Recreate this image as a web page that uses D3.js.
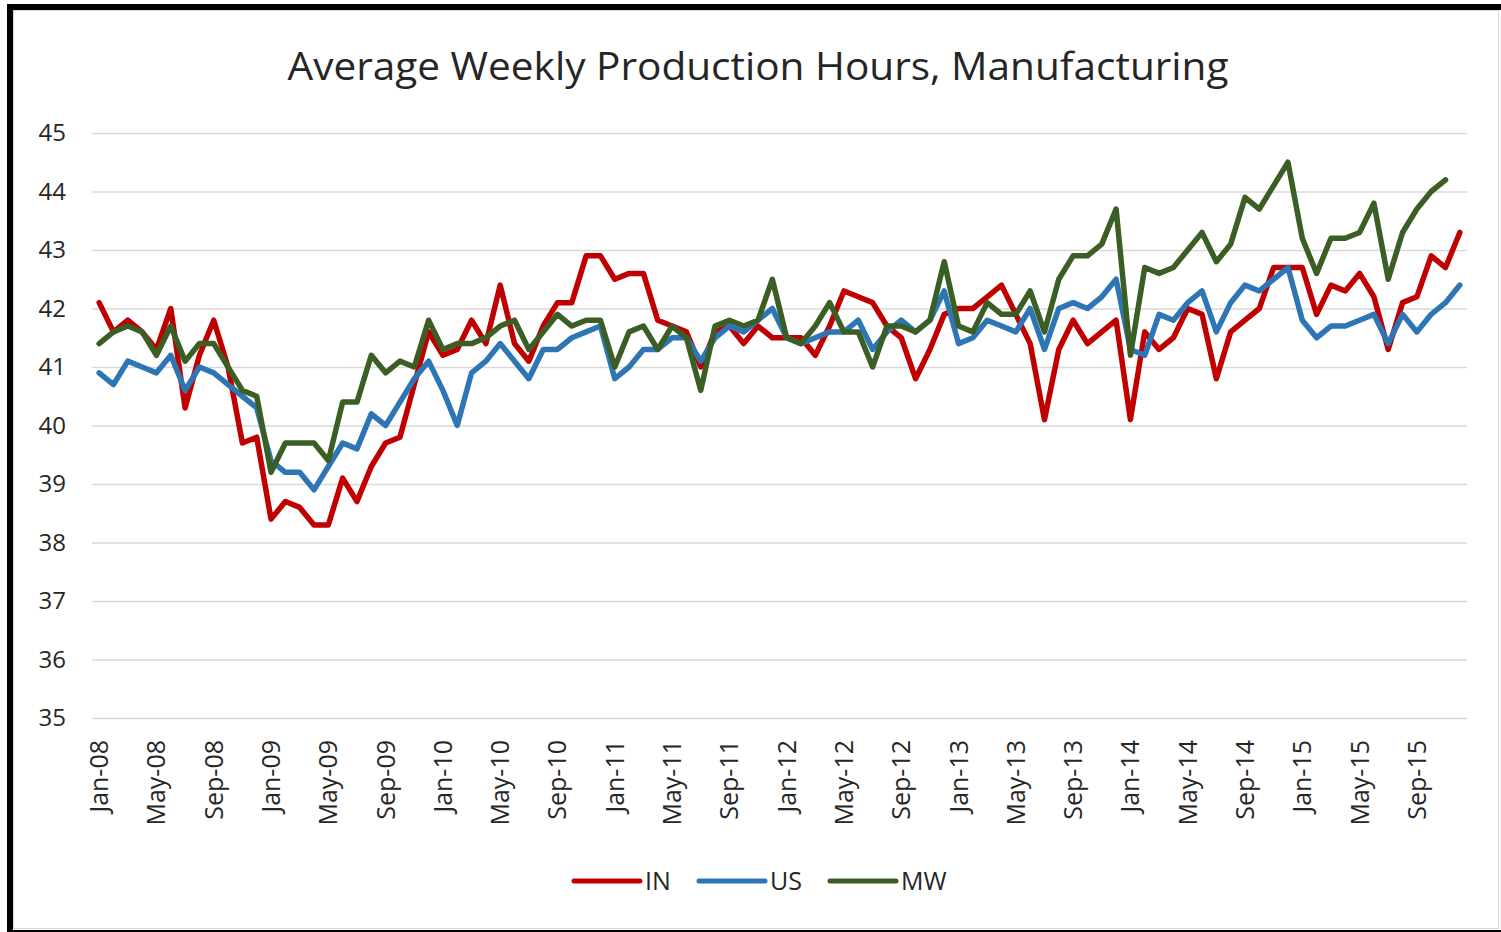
<!DOCTYPE html>
<html>
<head>
<meta charset="utf-8">
<script src="https://cdn.jsdelivr.net/npm/d3@7"></script>
<style>
  body { margin: 0; background: #fff; }
  #chart { width: 1501px; height: 932px; }
  text { font-family: "Open Sans", "Noto Sans", sans-serif; fill: #262626; }
</style>
</head>
<body>
<div id="chart"></div>
<script>
// data
const monthNames = ["Jan","Feb","Mar","Apr","May","Jun","Jul","Aug","Sep","Oct","Nov","Dec"];
const years = ["08","09","10","11","12","13","14","15"];
const months = [];
years.forEach(y => monthNames.forEach(m => months.push(m + "-" + y)));

const yTicks = [35, 36, 37, 38, 39, 40, 41, 42, 43, 44, 45];

const IN = [
  42.1, 41.6, 41.8, 41.6, 41.3, 42.0, 40.3, 41.2, 41.8, 41.0, 39.7, 39.8,
  38.4, 38.7, 38.6, 38.3, 38.3, 39.1, 38.7, 39.3, 39.7, 39.8, 40.7, 41.6,
  41.2, 41.3, 41.8, 41.4, 42.4, 41.4, 41.1, 41.7, 42.1, 42.1, 42.9, 42.9,
  42.5, 42.6, 42.6, 41.8, 41.7, 41.6, 41.0, 41.6, 41.7, 41.4, 41.7, 41.5,
  41.5, 41.5, 41.2, 41.7, 42.3, 42.2, 42.1, 41.7, 41.5, 40.8, 41.3, 41.9,
  42.0, 42.0, 42.2, 42.4, 41.9, 41.4, 40.1, 41.3, 41.8, 41.4, 41.6, 41.8,
  40.1, 41.6, 41.3, 41.5, 42.0, 41.9, 40.8, 41.6, 41.8, 42.0, 42.7, 42.7,
  42.7, 41.9, 42.4, 42.3, 42.6, 42.2, 41.3, 42.1, 42.2, 42.9, 42.7, 43.3
];

const US = [
  40.9, 40.7, 41.1, 41.0, 40.9, 41.2, 40.6, 41.0, 40.9, 40.7, 40.5, 40.3,
  39.4, 39.2, 39.2, 38.9, 39.3, 39.7, 39.6, 40.2, 40.0, 40.4, 40.8, 41.1,
  40.6, 40.0, 40.9, 41.1, 41.4, 41.1, 40.8, 41.3, 41.3, 41.5, 41.6, 41.7,
  40.8, 41.0, 41.3, 41.3, 41.5, 41.5, 41.1, 41.5, 41.7, 41.6, 41.8, 42.0,
  41.5, 41.4, 41.5, 41.6, 41.6, 41.8, 41.3, 41.6, 41.8, 41.6, 41.8, 42.3,
  41.4, 41.5, 41.8, 41.7, 41.6, 42.0, 41.3, 42.0, 42.1, 42.0, 42.2, 42.5,
  41.3, 41.2, 41.9, 41.8, 42.1, 42.3, 41.6, 42.1, 42.4, 42.3, 42.5, 42.7,
  41.8, 41.5, 41.7, 41.7, 41.8, 41.9, 41.4, 41.9, 41.6, 41.9, 42.1, 42.4
];

// MW has no value for Dec-15
const MW = [
  41.4, 41.6, 41.7, 41.6, 41.2, 41.7, 41.1, 41.4, 41.4, 41.0, 40.6, 40.5,
  39.2, 39.7, 39.7, 39.7, 39.4, 40.4, 40.4, 41.2, 40.9, 41.1, 41.0, 41.8,
  41.3, 41.4, 41.4, 41.5, 41.7, 41.8, 41.3, 41.6, 41.9, 41.7, 41.8, 41.8,
  41.0, 41.6, 41.7, 41.3, 41.7, 41.5, 40.6, 41.7, 41.8, 41.7, 41.8, 42.5,
  41.5, 41.4, 41.7, 42.1, 41.6, 41.6, 41.0, 41.7, 41.7, 41.6, 41.8, 42.8,
  41.7, 41.6, 42.1, 41.9, 41.9, 42.3, 41.6, 42.5, 42.9, 42.9, 43.1, 43.7,
  41.2, 42.7, 42.6, 42.7, 43.0, 43.3, 42.8, 43.1, 43.9, 43.7, 44.1, 44.5,
  43.2, 42.6, 43.2, 43.2, 43.3, 43.8, 42.5, 43.3, 43.7, 44.0, 44.2
];

const seriesNames = ["IN", "US", "MW"];
const seriesColors = ["#C00000", "#2E75B6", "#3B5E25"];
const seriesValues = [IN, US, MW];

// canvas
const width = 1501, height = 932;
const svg = d3.select("#chart").append("svg")
    .attr("width", width)
    .attr("height", height);

// frame (screenshot border)
svg.append("rect").attr("x", 0).attr("y", 0).attr("width", width).attr("height", height).attr("fill", "#fff");
svg.append("rect").attr("x", 13.5).attr("y", 10.5).attr("width", 1485).attr("height", 918)
    .attr("fill", "none").attr("stroke", "#d9d9d9").attr("stroke-width", 1);
svg.append("rect").attr("x", 7).attr("y", 4).attr("width", 1494).attr("height", 6).attr("fill", "#000");
svg.append("rect").attr("x", 7).attr("y", 4).attr("width", 6).attr("height", 928).attr("fill", "#000");
svg.append("rect").attr("x", 7).attr("y", 930).attr("width", 1494).attr("height", 2).attr("fill", "#000");

const margin = {top: 133, left: 92, right: 34, bottom: 214};

const xScale = d3.scaleBand()
    .domain(months)
    .range([margin.left, width - margin.right]);

const yScale = d3.scaleLinear()
    .domain([35, 45])
    .range([height - margin.bottom, margin.top]);

// title
svg.append("text")
    .attr("x", 758)
    .attr("y", 80)
    .attr("text-anchor", "middle")
    .attr("textLength", 941)
    .attr("lengthAdjust", "spacingAndGlyphs")
    .style("font-size", "39px")
    .text("Average Weekly Production Hours, Manufacturing");

// gridlines + y labels
const yAxis = svg.append("g")
    .attr("transform", `translate(${margin.left},0)`)
    .call(d3.axisLeft(yScale).tickValues(yTicks).tickSize(-(width - margin.left - margin.right)).tickPadding(26));
yAxis.select(".domain").remove();
yAxis.selectAll(".tick line").attr("stroke", "#d9d9d9").attr("stroke-width", 1.5);
yAxis.selectAll(".tick text")
    .style("font-size", "24px")
    .style("font-family", "'Open Sans', sans-serif")
    .attr("fill", "#262626");

// x labels
const xAxis = svg.append("g")
    .attr("transform", `translate(0,${height - margin.bottom})`)
    .call(d3.axisBottom(xScale)
        .tickValues(months.filter((m, i) => i % 4 === 0))
        .tickSize(0));
xAxis.select(".domain").remove();
xAxis.selectAll(".tick text")
    .attr("transform", "rotate(-90)")
    .attr("x", -22)
    .attr("y", 0)
    .attr("dy", "0.36em")
    .attr("text-anchor", "end")
    .style("font-size", "25px")
    .style("font-family", "'Open Sans', sans-serif")
    .attr("fill", "#262626");

// lines
const line = d3.line()
    .x((d, i) => xScale(months[i]) + xScale.bandwidth() / 2)
    .y(d => yScale(d));

seriesValues.forEach((vals, k) => {
    svg.append("path")
        .datum(vals)
        .attr("fill", "none")
        .attr("stroke", seriesColors[k])
        .attr("stroke-width", 5.5)
        .attr("stroke-linejoin", "round")
        .attr("stroke-linecap", "round")
        .attr("d", line);
});

// legend
const legendX = [574, 699, 830];
const legend = svg.append("g");
seriesNames.forEach((name, k) => {
    legend.append("line")
        .attr("x1", legendX[k]).attr("x2", legendX[k] + 66)
        .attr("y1", 881).attr("y2", 881)
        .attr("stroke", seriesColors[k])
        .attr("stroke-width", 5)
        .attr("stroke-linecap", "round");
    legend.append("text")
        .attr("x", legendX[k] + 71)
        .attr("y", 890)
        .style("font-size", "25px")
        .text(name);
});
</script>
</body>
</html>
